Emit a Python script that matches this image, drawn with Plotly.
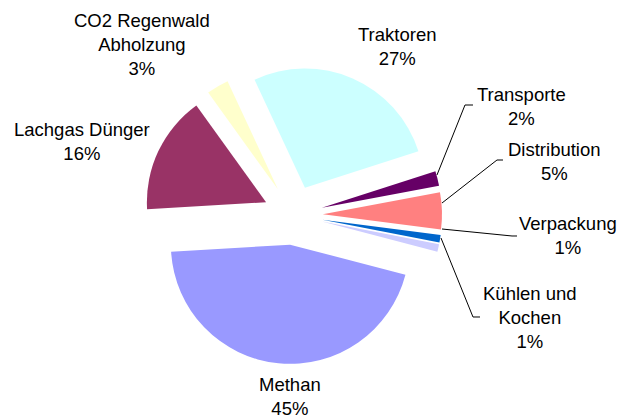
import plotly.graph_objects as go

# ---- data ----
categories = ["Traktoren", "Transporte", "Distribution", "Verpackung",
              "Kühlen und<br>Kochen", "Methan", "Lachgas Dünger", "CO2 Regenwald<br>Abholzung"]
values = [27, 2, 5, 1, 1, 45, 16, 3]
colors = ["#CCFFFF", "#660066", "#FF8080", "#0066CC",
          "#CCCCFF", "#9999FF", "#993366", "#FFFFCC"]

# ---- layout helpers (pixel -> paper) ----
W, H = 621, 418
def px(x):
    return x / W
def py(y):
    return 1 - y / H

CX, CY, EXT = 293, 215, 149   # pie centre and outer extent incl. pull (px)
PULL = 0.25

# label block centres (px)
label_pos = [(397, 47), (521, 106), (554, 161), (568, 236),
             (530, 317), (290, 396), (82, 141), (142, 45)]
# leader lines (px) for the small slices
leaders = {
    1: [(437, 175), (465, 105), (473, 105)],
    2: [(442, 203), (497, 160), (503, 160)],
    3: [(442, 229), (512, 236), (517, 236)],
    4: [(441, 238), (473, 317), (480, 317)],
}

fig = go.Figure(go.Pie(
    labels=categories,
    values=values,
    sort=False,
    direction="clockwise",
    rotation=-25,
    pull=[PULL] * len(values),
    marker=dict(colors=colors, line=dict(width=0)),
    textinfo="none",
    hoverinfo="label+percent",
    showlegend=False,
    domain=dict(x=[px(CX - EXT), px(CX + EXT)], y=[py(CY + EXT), py(CY - EXT)]),
))

total = sum(values)
annotations = []
for i, (lab, v) in enumerate(zip(categories, values)):
    x, y = label_pos[i]
    annotations.append(dict(
        text=f"{lab}<br>{round(100 * v / total)}%",
        x=px(x), y=py(y), xref="paper", yref="paper",
        xanchor="center", yanchor="middle", showarrow=False,
        font=dict(family="Liberation Sans, Arial, sans-serif", size=18.5, color="#000000"),
    ))

shapes = []
for i, pts in leaders.items():
    path = "M " + " L ".join(f"{px(a):.5f},{py(b):.5f}" for a, b in pts)
    shapes.append(dict(type="path", path=path, xref="paper", yref="paper",
                       line=dict(color="#000000", width=1)))

fig.update_layout(
    width=W, height=H,
    margin=dict(l=0, r=0, t=0, b=0),
    paper_bgcolor="#FFFFFF", plot_bgcolor="#FFFFFF",
    annotations=annotations,
    shapes=shapes,
    font=dict(family="Liberation Sans, Arial, sans-serif"),
)

fig.write_html("out.html",
               config={"displayModeBar": False},
               post_script="document.body.style.margin='0';document.body.style.overflow='hidden';")
